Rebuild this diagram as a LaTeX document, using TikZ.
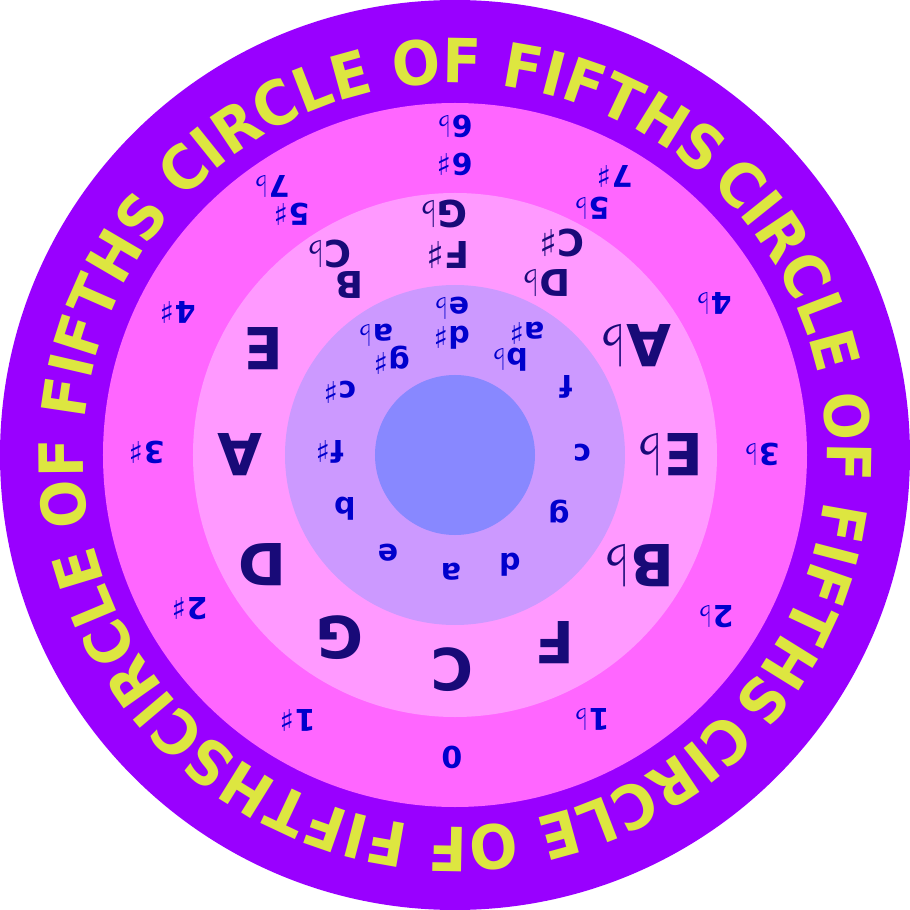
\documentclass[tikz,border=0pt]{standalone}
\usepackage{fontspec}
\setmainfont{DejaVu Sans}
\newfontfamily\titlefont[FakeStretch=0.93]{DejaVu Sans}
\usetikzlibrary{decorations.text}
\definecolor{ringA}{HTML}{9900FF}
\definecolor{ringB}{HTML}{FF66FF}
\definecolor{ringC}{HTML}{FF99FF}
\definecolor{ringD}{HTML}{CC99FF}
\definecolor{ringE}{HTML}{8888FF}
\definecolor{bigcol}{HTML}{180A78}
\definecolor{smallcol}{HTML}{0000CC}
\definecolor{titlecol}{HTML}{DDE640}
\newcommand\myfl{{\mdseries ♭}}
\newcommand\mysh{{\mdseries ♯}}
\begin{document}
\begin{tikzpicture}[x=1pt,y=1pt,
  big/.style={font=\bfseries\fontsize{58}{58}\selectfont, text=bigcol, rotate=180, inner sep=0pt},
  pairlbl/.style={font=\bfseries\fontsize{37}{37}\selectfont, text=bigcol, rotate=180, inner sep=0pt},
  ringlbl/.style={font=\bfseries\fontsize{30}{30}\selectfont, text=smallcol, rotate=180, inner sep=0pt},
  minorlbl/.style={font=\bfseries\fontsize{30}{30}\selectfont, text=smallcol, rotate=180, inner sep=0pt}]
\useasboundingbox (-455,-455) rectangle (455,455);
\fill[white] (-455,-455) rectangle (455,455);
\fill[ringA] (0,0) circle[radius=455];
\fill[ringB] (0,0) circle[radius=352];
\fill[ringC] (0,0) circle[radius=262];
\fill[ringD] (0,0) circle[radius=170];
\fill[ringE] (0,0) circle[radius=80];
% curved title
\foreach \ang in {92.5, 2.5, -87.5, -176} {
  \path[decorate, decoration={text along path, text color=titlecol,
     text={|\titlefont\bfseries\fontsize{61}{61}\selectfont|CIRCLE OF FIFTHS}, text align=center}]
     ({\ang+50}:372) arc[start angle={\ang+50}, end angle={\ang-50}, radius=372];
}
% major keys
\node[big] (kC) at (-3,-215) {C};
\node[big] (kF) at (100,-188) {F};
\node[big] (kBb) at (184,-111) {B\myfl};
\node[big] (kEb) at (215,0) {E\myfl};
\node[big] (kAb) at (180,109) {A\myfl};
\node[big] (kE) at (-191,106) {E};
\node[big] (kA) at (-215,0) {A};
\node[big] (kD) at (-193,-110) {D};
\node[big] (kG) at (-115,-183) {G};
\node[pairlbl] (kDb) at (91,172) {D\myfl};
\node[pairlbl] (kCs) at (107,212) {C\mysh};
\node[pairlbl] (kGb) at (-11,241) {G\myfl};
\node[pairlbl] (kFs) at (-7,200) {F\mysh};
\node[pairlbl] (kCb) at (-126,201) {C\myfl};
\node[pairlbl] (kB) at (-106,170) {B};
% signatures
\node[ringlbl] (s0) at (-3,-302) {0};
\node[ringlbl] (s1f) at (137,-264) {1\myfl};
\node[ringlbl] (s1s) at (-157,-265) {1\mysh};
\node[ringlbl] (s2f) at (261,-162) {2\myfl};
\node[ringlbl] (s2s) at (-265,-154) {2\mysh};
\node[ringlbl] (s3f) at (307,1) {3\myfl};
\node[ringlbl] (s3s) at (-308,3) {3\mysh};
\node[ringlbl] (s4f) at (259,152) {4\myfl};
\node[ringlbl] (s4s) at (-277,143) {4\mysh};
\node[ringlbl] (s5f) at (137,247) {5\myfl};
\node[ringlbl] (s7s) at (160,279) {7\mysh};
\node[ringlbl] (s5s) at (-163,241) {5\mysh};
\node[ringlbl] (s7f) at (-183,269) {7\myfl};
\node[ringlbl] (s6s) at (0,291) {6\mysh};
\node[ringlbl] (s6f) at (0,329) {6\myfl};
% minor keys
\node[minorlbl] (ma) at (-4,-117) {a};
\node[minorlbl] (me) at (-67,-98) {e};
\node[minorlbl] (md) at (55,-110) {d};
\node[minorlbl] (mb) at (-110,-54) {b};
\node[minorlbl] (mg) at (104,-57) {g};
\node[minorlbl] (mc) at (127,2) {c};
\node[minorlbl] (mfs) at (-125,3) {f\mysh};
\node[minorlbl] (mf) at (111,68) {f};
\node[minorlbl] (mcs) at (-115,63) {c\mysh};
\node[minorlbl] (mbf) at (55,95) {b\myfl};
\node[minorlbl] (mas) at (72,122) {a\mysh};
\node[minorlbl] (mds) at (-3,117) {d\mysh};
\node[minorlbl] (mef) at (-3,147) {e\myfl};
\node[minorlbl] (mgs) at (-63,95) {g\mysh};
\node[minorlbl] (maf) at (-79,120) {a\myfl};
\end{tikzpicture}
\end{document}
